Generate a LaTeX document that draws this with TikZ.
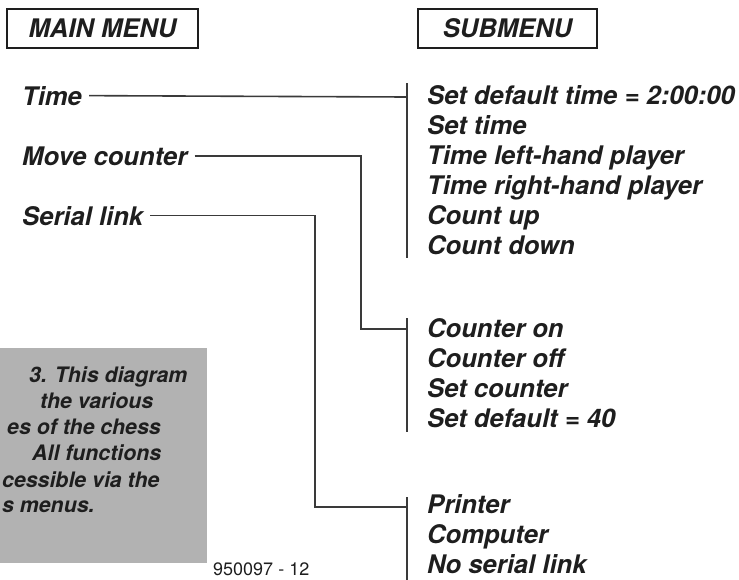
\documentclass[tikz,border=0pt]{standalone}
\usepackage{fontspec}
\setmainfont{TeX Gyre Heros}
\definecolor{ink}{HTML}{1E1E1E}
\definecolor{wiregray}{HTML}{3A3A3A}
\definecolor{panel}{HTML}{B2B2B2}
\tikzset{
  menutext/.style={anchor=base west,inner ysep=0pt,inner xsep=7pt,text=ink,
    font=\fontsize{25.6}{30}\selectfont\bfseries\itshape},
  headbox/.style={draw=ink,line width=1.8pt,minimum height=39pt,inner sep=0pt,text=ink,
    font=\fontsize{25.6}{30}\selectfont\bfseries\itshape},
  capline/.style={anchor=base west,inner sep=0pt,text=ink,
    font=\fontsize{21.3}{26}\selectfont\bfseries\itshape},
  wire/.style={draw=wiregray,line width=1.6pt}
}
\begin{document}
\begin{tikzpicture}[x=1pt,y=-1pt]
\useasboundingbox (0,0) rectangle (739,579);
% headings
\node[headbox,minimum width=191pt] (mainhead) at (102.5,28.5) {MAIN MENU};
\node[headbox,minimum width=179pt] (subhead) at (507.5,28.5) {SUBMENU};
% main menu entries
\node[menutext] (time) at (15,105) {Time};
\node[menutext] (move) at (15,165) {Move counter};
\node[menutext] (serial) at (15,225) {Serial link};
% submenus
\foreach \txt [count=\i from 0] in {Set default time = 2:00:00,Set time,
  Time left-hand player,Time right-hand player,Count up,Count down}
  \node[menutext] (ta\i) at (420,104+30*\i) {\txt};
\foreach \txt [count=\i from 0] in {Counter on,Counter off,Set counter,Set default = 40}
  \node[menutext] (cn\i) at (420,337+30.3*\i) {\txt};
\foreach \txt [count=\i from 0] in {Printer,Computer,No serial link}
  \node[menutext] (sl\i) at (420,513+30*\i) {\txt};
% brackets and connectors
\coordinate (timebar) at (407,97);
\coordinate (cntbar) at (407,329);
\coordinate (serbar) at (407,507);
\draw[wire] (407,83) -- (407,258);
\draw[wire] (407,318) -- (407,432);
\draw[wire] (407,497) -- (407,582);
\draw[wire] (time.east) -- (timebar);
\draw[wire] (move.east) -| ([xshift=-46pt]cntbar) -- (cntbar);
\draw[wire] (serial.east) -| ([xshift=-92pt]serbar) -- (serbar);
% caption panel
\fill[panel] (0,348) rectangle (207,563);
\node[capline] (cap1) at (29,382) {3. This diagram};
\node[capline] (cap2) at (40,408) {the various};
\node[capline] (cap3) at (7,434) {es of the chess};
\node[capline] (cap4) at (32,460) {All functions};
\node[capline] (cap5) at (2,487) {cessible via the};
\node[capline] (cap6) at (2,512) {s menus.};
\node[anchor=base west,inner sep=0pt,text=ink,font=\fontsize{18}{20}\selectfont] (figno) at (213,575) {950097 - 12};
\end{tikzpicture}
\end{document}
